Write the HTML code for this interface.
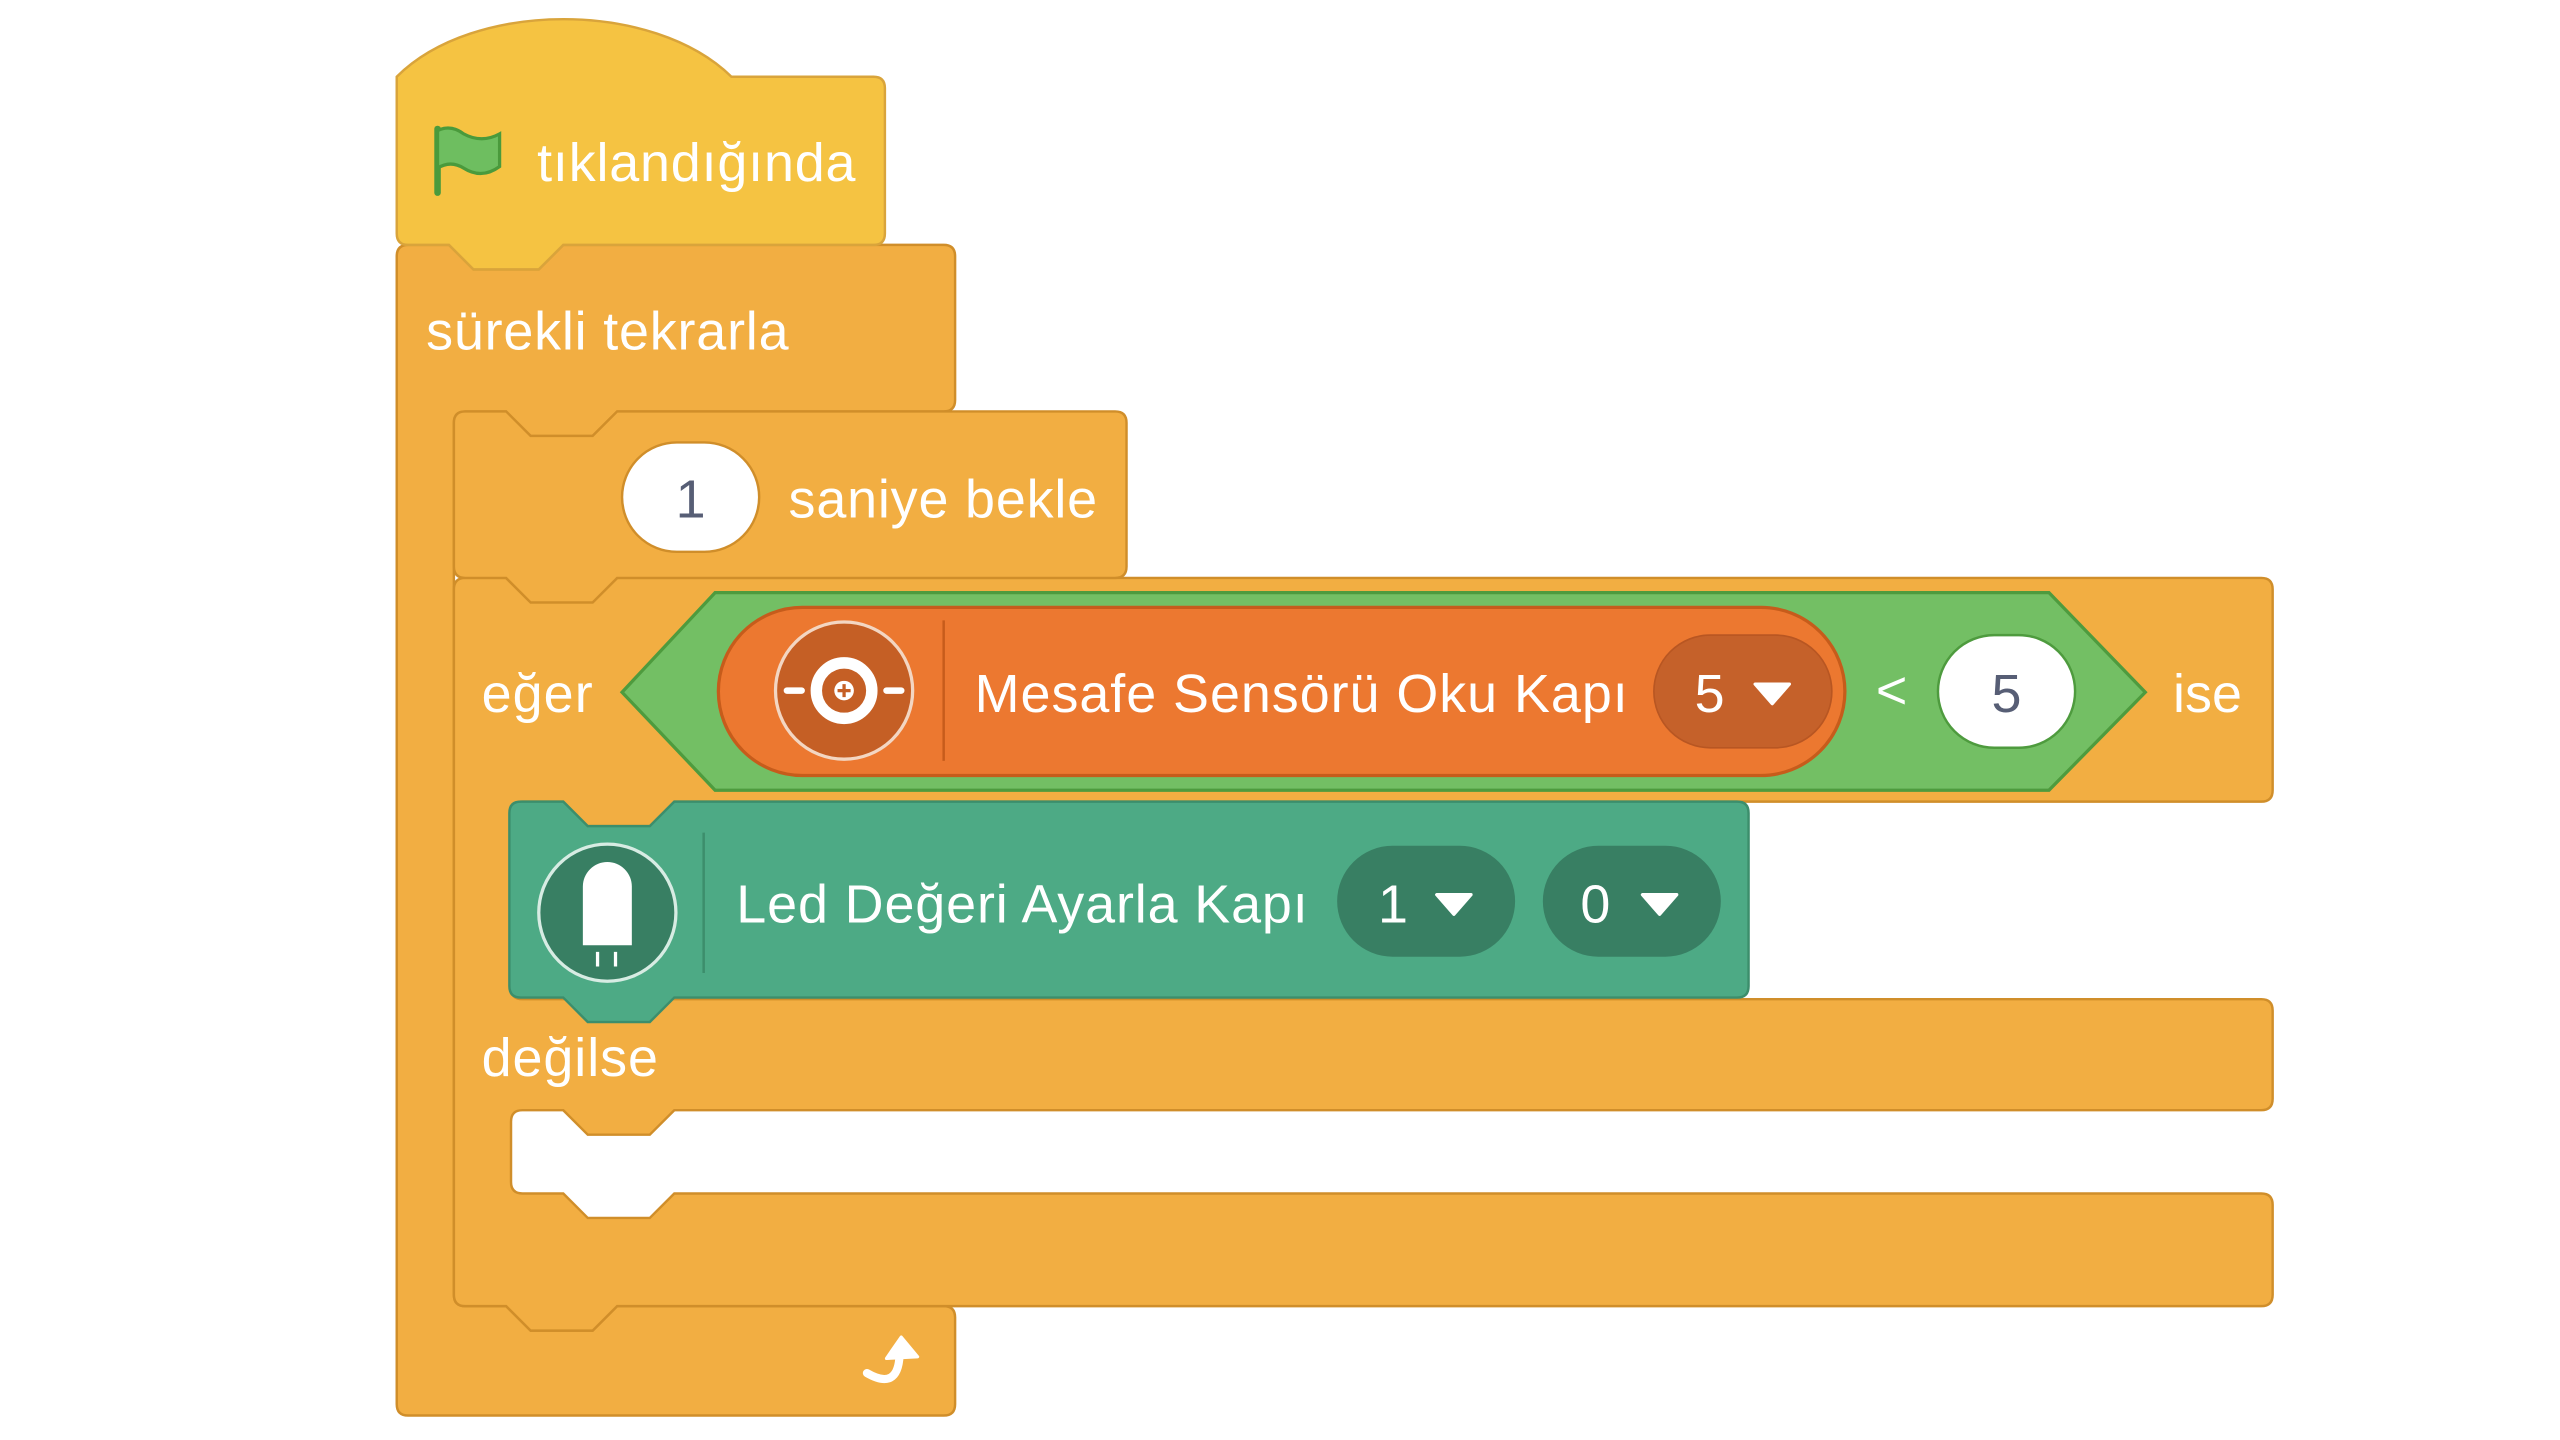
<!DOCTYPE html>
<html><head><meta charset="utf-8"><style>
html,body{margin:0;padding:0;background:#fff;}
svg{display:block;}
text{font-family:"Liberation Sans","DejaVu Sans",sans-serif;fill:#fff;font-size:33px;}
</style></head><body>
<svg width="2560" height="1440" viewBox="0 0 1568 882" preserveAspectRatio="none" xmlns="http://www.w3.org/2000/svg">
<rect width="1568" height="882" fill="#fff"/>
<!-- forever -->
<path d="M250,150 L275,150 L290,165 L330,165 L345,150 L578,150 Q585,150 585,157 L585,245 Q585,252 578,252 L378,252 L363,267 L325,267 L310,252 L285,252 Q278,252 278,259 L278,793 Q278,800 285,800 L310,800 L325,815 L363,815 L378,800 L578,800 Q585,800 585,807 L585,860 Q585,867 578,867 L250,867 Q243,867 243,860 L243,157 Q243,150 250,150 Z" fill="#F2AE42" stroke="#D08E2A" stroke-width="1.5"/>
<!-- if else -->
<path d="M285,354 L310,354 L325,369 L363,369 L378,354 L1385,354 Q1392,354 1392,361 L1392,484 Q1392,491 1385,491 L413,491 L398,506 L360,506 L345,491 L320,491 Q313,491 313,498 L313,605 Q313,612 320,612 L1385,612 Q1392,612 1392,619 L1392,673 Q1392,680 1385,680 L413,680 L398,695 L360,695 L345,680 L320,680 Q313,680 313,687 L313,724 Q313,731 320,731 L345,731 L360,746 L398,746 L413,731 L1385,731 Q1392,731 1392,738 L1392,793 Q1392,800 1385,800 L378,800 L363,815 L325,815 L310,800 L285,800 Q278,800 278,793 L278,361 Q278,354 285,354 Z" fill="#F2AE42" stroke="#D08E2A" stroke-width="1.5"/>
<!-- wait -->
<path d="M285,252 L310,252 L325,267 L363,267 L378,252 L683,252 Q690,252 690,259 L690,347 Q690,354 683,354 L378,354 L363,369 L325,369 L310,354 L285,354 Q278,354 278,347 L278,259 Q278,252 285,252 Z" fill="#F2AE42" stroke="#D08E2A" stroke-width="1.5"/>
<rect x="381" y="271" width="84" height="67" rx="33.5" fill="#fff" stroke="#D08E2A" stroke-width="1.5"/>
<text x="423" y="317" text-anchor="middle" style="fill:#575E75">1</text>
<text x="483" y="317" textLength="189">saniye bekle</text>
<!-- hat -->
<path d="M243,47 C290,0 400,0 448,47 L535,47 Q542,47 542,54 L542,143 Q542,150 535,150 L345,150 L330,165 L290,165 L275,150 L250,150 Q243,150 243,143 Z" fill="#F5C342" stroke="#D9A43B" stroke-width="1.5"/>
<line x1="268" y1="79" x2="268" y2="118" stroke="#4A9A3C" stroke-width="4" stroke-linecap="round"/>
<path d="M268,80 Q276,76 284,82 Q295,88 306,82 L306,102 Q295,110 284,103 Q276,98 268,103 Z" fill="#6EBE60" stroke="#4A9A3C" stroke-width="2"/>
<text x="329" y="111" textLength="195">tıklandığında</text>
<text x="261" y="214" textLength="222">sürekli tekrarla</text>
<!-- if header -->
<text x="295" y="436" textLength="68">eğer</text>
<path d="M381,424 L438,363 L1255,363 L1314,424 L1255,484 L438,484 Z" fill="#73BF64" stroke="#4E9B3E" stroke-width="2"/>
<rect x="440" y="372" width="690" height="103" rx="51.5" fill="#EC7830" stroke="#C65C1B" stroke-width="2"/>
<circle cx="517" cy="423" r="42" fill="#C55F25" stroke="#f3d6c2" stroke-width="2"/>
<circle cx="517" cy="423" r="17" fill="none" stroke="#fff" stroke-width="7"/>
<circle cx="517" cy="423" r="6" fill="#fff"/>
<path d="M513,423 H521 M517,419 V427" stroke="#C55F25" stroke-width="2"/>
<path d="M482,423 H491 M543,423 H552" stroke="#fff" stroke-width="4" stroke-linecap="round"/>
<line x1="578" y1="380" x2="578" y2="466" stroke="#C65C1B" stroke-width="1.5"/>
<text x="597" y="436" textLength="400">Mesafe Sensörü Oku Kapı</text>
<rect x="1013" y="389" width="109" height="69" rx="34.5" fill="#C5612A" stroke="#B85622" stroke-width="1"/>
<text x="1038" y="436">5</text>
<path d="M1075,419 L1096,419 L1085.5,431 Z" fill="#fff" stroke="#fff" stroke-width="2" stroke-linejoin="round"/>
<text x="1149" y="434">&lt;</text>
<rect x="1187" y="389" width="84" height="69" rx="34.5" fill="#fff" stroke="#4E9B3E" stroke-width="1.5"/>
<text x="1229" y="436" text-anchor="middle" style="fill:#575E75">5</text>
<text x="1331" y="436">ise</text>
<!-- LED -->
<path d="M319,491 L345,491 L360,506 L398,506 L413,491 L1064,491 Q1071,491 1071,498 L1071,604 Q1071,611 1064,611 L413,611 L398,626 L360,626 L345,611 L319,611 Q312,611 312,604 L312,498 Q312,491 319,491 Z" fill="#4DAA85" stroke="#3C8E6C" stroke-width="1.5"/>
<circle cx="372" cy="559" r="42" fill="#387F63" stroke="#d7ece3" stroke-width="2"/>
<path d="M357,579 L357,543 A15,15 0 0 1 387,543 L387,579 Z" fill="#fff"/>
<path d="M366,583 V592 M377,583 V592" stroke="#fff" stroke-width="2"/>
<line x1="431" y1="510" x2="431" y2="596" stroke="#3C8E6C" stroke-width="1.5"/>
<text x="451" y="565" textLength="350">Led Değeri Ayarla Kapı</text>
<rect x="819" y="518" width="109" height="68" rx="34" fill="#387F63"/>
<text x="844" y="565">1</text>
<path d="M880,548 L901,548 L890.5,560 Z" fill="#fff" stroke="#fff" stroke-width="2" stroke-linejoin="round"/>
<rect x="945" y="518" width="109" height="68" rx="34" fill="#387F63"/>
<text x="968" y="565">0</text>
<path d="M1006,548 L1027,548 L1016.5,560 Z" fill="#fff" stroke="#fff" stroke-width="2" stroke-linejoin="round"/>
<text x="295" y="659" textLength="108">değilse</text>
<!-- loop arrow -->
<path d="M531,841 Q550,852 551,830" fill="none" stroke="#fff" stroke-width="5" stroke-linecap="round"/>
<path d="M543,832 L552,819 L562,831 Z" fill="#fff" stroke="#fff" stroke-width="2" stroke-linejoin="round"/>
</svg>
</body></html>
